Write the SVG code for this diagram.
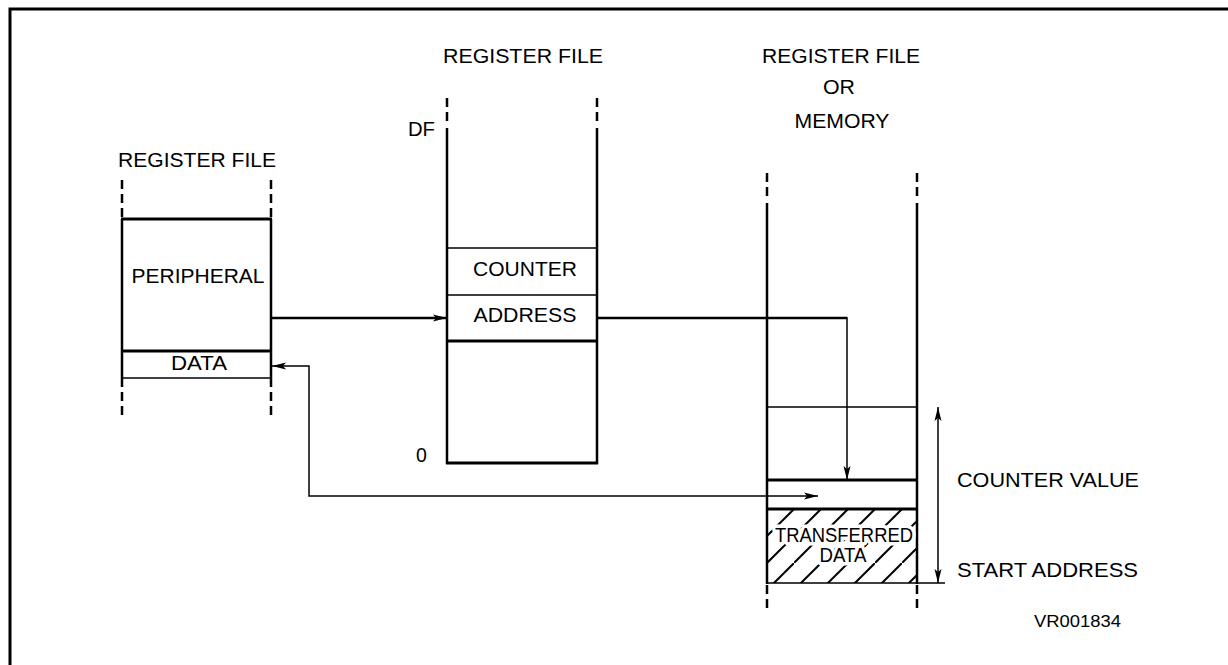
<svg xmlns="http://www.w3.org/2000/svg" width="1228" height="665" viewBox="0 0 1228 665">
<style>
  text { font-family: "Liberation Sans", Arial, sans-serif; font-size: 19.5px; fill: #000; }
  .mid { text-anchor: middle; }
  .halo { paint-order: stroke; stroke: #fff; stroke-width: 7px; stroke-linejoin: round; }
  .wall { stroke: #000; stroke-width: 2.5; fill: none; }
  .dash { stroke: #000; stroke-width: 2.5; fill: none; stroke-dasharray: 9 5; }
  .thick { stroke: #000; stroke-width: 3; fill: none; }
  .thin { stroke: #000; stroke-width: 1.5; fill: none; }
  .conn { stroke: #000; fill: none; }
</style>
<defs>
  <marker id="ah" markerUnits="userSpaceOnUse" markerWidth="16" markerHeight="10" refX="14" refY="5" orient="auto-start-reverse">
    <path d="M0,1.5 L14,5 L0,8.5 L3,5 Z" fill="#000"/>
  </marker>
  <pattern id="hatch" patternUnits="userSpaceOnUse" width="27" height="27" x="767" y="509">
    <path d="M-2,29 L29,-2" stroke="#000" stroke-width="2"/>
  </pattern>
</defs>
<rect width="1228" height="665" fill="#fff"/>
<path d="M10,667 V9 H1232" fill="none" stroke="#000" stroke-width="3"/>

<g id="register-file-left">
  <path class="dash" d="M122,180 V219 M271,180 V219 M122,378 V416 M271,378 V416"/>
  <path class="wall" d="M122,219 V378 M271,219 V378"/>
  <path class="thick" d="M121,219 H272 M121,351 H272"/>
  <path class="thin" d="M121,378 H272"/>
  <text class="mid" x="197" y="167" textLength="158" lengthAdjust="spacingAndGlyphs">REGISTER FILE</text>
  <text class="mid" x="198" y="283" textLength="133" lengthAdjust="spacingAndGlyphs">PERIPHERAL</text>
  <text class="mid" x="199" y="370" textLength="56" lengthAdjust="spacingAndGlyphs">DATA</text>
</g>

<g id="register-file-middle">
  <path class="dash" d="M447,98 V126 M597,98 V126"/>
  <path class="wall" d="M447,128 V464 M597,128 V464"/>
  <path class="thin" d="M447,248 H597 M447,295 H597"/>
  <path class="thick" d="M446,341 H598 M446,463 H598"/>
  <text class="mid" x="523" y="63" textLength="160" lengthAdjust="spacingAndGlyphs">REGISTER FILE</text>
  <text x="408" y="136" textLength="27" lengthAdjust="spacingAndGlyphs">DF</text>
  <text class="mid" x="525" y="276" textLength="104" lengthAdjust="spacingAndGlyphs">COUNTER</text>
  <text class="mid" x="525" y="322" textLength="103" lengthAdjust="spacingAndGlyphs">ADDRESS</text>
  <text x="416" y="462">0</text>
</g>

<g id="register-file-or-memory">
  <rect x="767" y="509" width="150" height="74" fill="url(#hatch)"/>
  <path class="dash" d="M767,173 V201 M917,173 V201 M767,585 V612 M917,585 V612"/>
  <path class="wall" d="M767,203 V584 M917,203 V584"/>
  <path class="thin" d="M767,407 H917 M767,583 H945"/>
  <path class="thick" d="M766,480 H918 M766,509 H918"/>
  <text class="mid" x="841" y="63" textLength="158" lengthAdjust="spacingAndGlyphs">REGISTER FILE</text>
  <text class="mid" x="839" y="94" textLength="32" lengthAdjust="spacingAndGlyphs">OR</text>
  <text class="mid" x="842" y="128" textLength="95" lengthAdjust="spacingAndGlyphs">MEMORY</text>
  <text class="mid halo" x="844" y="542" textLength="138" lengthAdjust="spacingAndGlyphs">TRANSFERRED</text>
  <text class="mid halo" x="843" y="562" textLength="47" lengthAdjust="spacingAndGlyphs">DATA</text>
  <text x="957" y="487" textLength="182" lengthAdjust="spacingAndGlyphs">COUNTER VALUE</text>
  <text x="957" y="577" textLength="181" lengthAdjust="spacingAndGlyphs">START ADDRESS</text>
</g>

<g id="connectors">
  <path class="conn" stroke-width="2.5" d="M271,318 H447" marker-end="url(#ah)"/>
  <path class="conn" stroke-width="2.5" d="M597,318 H847"/>
  <path class="conn" stroke-width="1.5" d="M847,317 V480" marker-end="url(#ah)"/>
  <path class="conn" stroke-width="1.5" d="M272,366 H309 V496 H818" marker-start="url(#ah)" marker-end="url(#ah)"/>
  <path class="conn" stroke-width="1.5" d="M938,407 V583" marker-start="url(#ah)" marker-end="url(#ah)"/>
</g>

<text x="1034" y="627" style="font-size:17px" textLength="87" lengthAdjust="spacingAndGlyphs">VR001834</text>
</svg>
